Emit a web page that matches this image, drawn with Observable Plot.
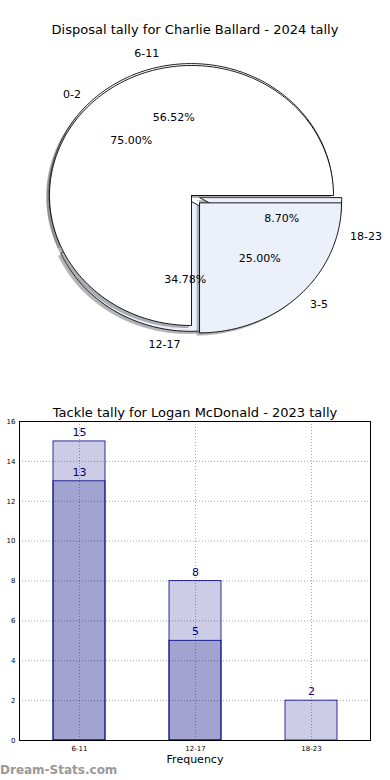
<!DOCTYPE html>
<html><head><meta charset="utf-8">
<script src="https://cdn.jsdelivr.net/npm/d3@7"></script>
<script src="https://cdn.jsdelivr.net/npm/@observablehq/plot@0.6"></script>
<style>
body{margin:0;background:#fff;font-family:"DejaVu Sans",sans-serif;}
#wrap{position:relative;width:390px;height:780px;overflow:hidden;}
.t{position:absolute;left:0;width:390px;text-align:center;font-size:13px;color:#000;line-height:16px;}
#pie{position:absolute;left:0;top:0;}
#bar{position:absolute;left:0;top:400px;}
#wm{position:absolute;left:0;top:763px;font-size:12px;color:#999;font-weight:bold;}
</style></head><body>
<div id="wrap">
<div id="pie"></div>
<div id="bar"></div>
<div class="t" style="top:22px">Disposal tally for Charlie Ballard - 2024 tally</div>
<div class="t" style="top:405px">Tackle tally for Logan McDonald - 2023 tally</div>
<div id="wm">Dream-Stats.com</div>
</div>
<script>
// Pie A (drawn in front)
const pieALabels = ["0-2", "3-5"];
const pieAValues = [75, 25];
const pieAExplode = [0, 0.08];
const pieAColors = ["#ffffff", "#ebf0fb"];
// Pie B (drawn behind)
const pieBLabels = ["6-11", "12-17", "18-23"];
const pieBValues = [13, 8, 2];
const pieBExplode = [0.015, 0.045, 0.06];
const pieBColors = ["#ffffff", "#ebf0fb", "#ebf0fb"];

// Bar chart
const barCategories = ["6-11", "12-17", "18-23"];
const barLight = [15, 8, 2];
const barDark = [13, 5, 0];
const yTicks = [0, 2, 4, 6, 8, 10, 12, 14, 16];
const xAxisLabel = "Frequency";

function wedges(labels, values, explode, colors) {
  const total = d3.sum(values);
  let a = 0;
  return labels.map((label, i) => {
    const a0 = a, a1 = a + values[i] / total * 360;
    a = a1;
    const mid = (a0 + a1) / 2 * Math.PI / 180;
    const cx = explode[i] * Math.cos(mid), cy = explode[i] * Math.sin(mid);
    const pts = [{x: cx, y: cy}];
    const n = Math.max(2, Math.ceil(a1 - a0));
    for (let k = 0; k <= n; k++) {
      const t = (a0 + (a1 - a0) * k / n) * Math.PI / 180;
      pts.push({x: cx + Math.cos(t), y: cy + Math.sin(t)});
    }
    pts.push({x: cx, y: cy});
    return {label, color: colors[i], pts, mid, cx, cy,
      pct: (values[i] / total * 100).toFixed(2) + "%"};
  });
}

const wa = wedges(pieALabels, pieAValues, pieAExplode, pieAColors);
const wb = wedges(pieBLabels, pieBValues, pieBExplode, pieBColors);

function wedgeMarks(ws) {
  const m = [];
  ws.forEach(w => {
    m.push(Plot.line(w.pts, {x: d => d.x - 0.02, y: d => d.y - 0.02, fill: "#777", fillOpacity: 0.55, stroke: "none"}));
  });
  ws.forEach(w => {
    m.push(Plot.line(w.pts, {x: "x", y: "y", fill: w.color, stroke: "#000", strokeWidth: 0.9}));
  });
  return m;
}

const all = [...wb, ...wa];
const labelPts = all.map(w => ({label: w.label, x: w.cx + 1.1 * Math.cos(w.mid), y: w.cy + 1.1 * Math.sin(w.mid)}));
const pctPts = all.map(w => ({label: w.pct, x: w.cx + 0.6 * Math.cos(w.mid), y: w.cy + 0.6 * Math.sin(w.mid)}));

const pie = Plot.plot({
  width: 390, height: 390,
  marginLeft: 49, marginRight: 57, marginTop: 65, marginBottom: 65,
  x: {domain: [-1, 1], axis: null},
  y: {domain: [-1, 1], axis: null},
  style: {fontFamily: "DejaVu Sans, sans-serif", fontSize: "11px", background: "transparent"},
  marks: [
    ...wedgeMarks(wb),
    ...wedgeMarks(wa),
    Plot.text(labelPts.filter(d => d.x < 0), {x: "x", y: "y", text: "label", textAnchor: "end", fill: "#000", fontSize: 11}),
    Plot.text(labelPts.filter(d => d.x >= 0), {x: "x", y: "y", text: "label", textAnchor: "start", fill: "#000", fontSize: 11}),
    Plot.text(pctPts, {x: "x", y: "y", text: "label", fill: "#000", fontSize: 11})
  ]
});
document.getElementById("pie").appendChild(pie);

const barData = barCategories.map((c, i) => ({cat: c, light: barLight[i], dark: barDark[i]}));
const darkData = barData.filter(d => d.dark > 0);

const bar = Plot.plot({
  width: 390, height: 380,
  marginLeft: 19, marginRight: 20, marginTop: 21, marginBottom: 40,
  style: {fontFamily: "DejaVu Sans, sans-serif", background: "transparent"},
  x: {type: "band", domain: barCategories, paddingInner: 0.556, paddingOuter: 0.282},
  y: {domain: [0, 16]},
  marks: [
    Plot.gridY(yTicks, {stroke: "#000", strokeOpacity: 0.35, strokeDasharray: "1,2"}),
    Plot.gridX(barCategories, {stroke: "#000", strokeOpacity: 0.35, strokeDasharray: "1,2"}),
    Plot.barY(barData, {x: "cat", y: "light", fill: "navy", fillOpacity: 0.2, stroke: "navy", strokeWidth: 0.8}),
    Plot.barY(darkData, {x: "cat", y: "dark", fill: "navy", fillOpacity: 0.2, stroke: "navy", strokeWidth: 0.8}),
    Plot.text(barData, {x: "cat", y: "light", text: d => String(d.light), dy: -9, fill: "navy", fontSize: 11}),
    Plot.text(darkData, {x: "cat", y: "dark", text: d => String(d.dark), dy: -9, fill: "navy", fontSize: 11}),
    Plot.frame({stroke: "#000"}),
    Plot.axisY(yTicks, {tickSize: 0, tickPadding: 4, fontSize: 7, label: null, tickFormat: d => String(d)}),
    Plot.axisX({tickSize: 0, tickPadding: 6, fontSize: 7, label: null}),
    Plot.axisX({ticks: [], tickSize: 0, fontSize: 11, label: xAxisLabel, labelAnchor: "center", labelOffset: 22})
  ]
});
document.getElementById("bar").appendChild(bar);
</script>
</body></html>
